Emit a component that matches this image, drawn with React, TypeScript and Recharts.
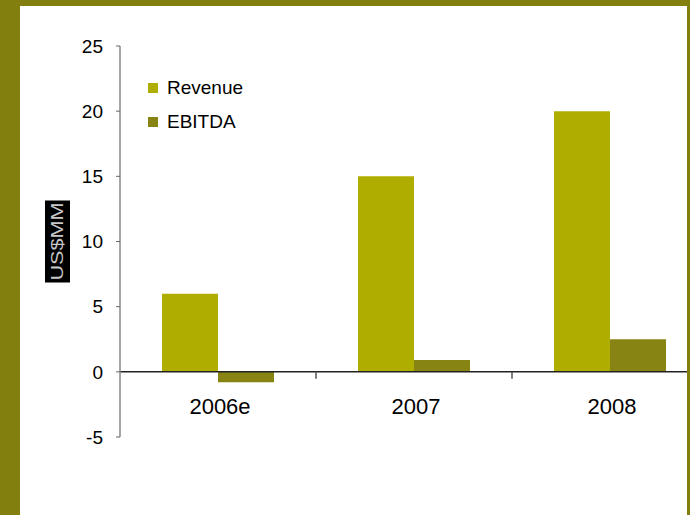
import { BarChart, Bar, XAxis, YAxis, Legend, ReferenceLine } from 'recharts';

const categories = ['2006e', '2007', '2008'];
const seriesNames = ['Revenue', 'EBITDA'];
const revenue = [6, 15, 20];
const ebitda = [-0.8, 0.9, 2.5];
const yTicks = [-5, 0, 5, 10, 15, 20, 25];

const OLIVE = '#837F0F';
const REV_COLOR = '#AFAE00';
const EBITDA_COLOR = '#888413';
const FONT = '"Liberation Sans", Arial, sans-serif';

const data = categories.map((year, i) => ({
  year,
  revenue: revenue[i],
  ebitda: ebitda[i],
}));

// zero line with small ticks between the categories
const ZeroAxis = (props: any) => {
  const { x1, y1, x2, y2 } = props;
  const step = (x2 - x1) / categories.length;
  const marks = [];
  for (let i = 1; i < categories.length; i++) {
    const x = x1 + step * i;
    marks.push(<line key={i} x1={x} y1={y1} x2={x} y2={y1 + 7} stroke="#555" strokeWidth={1.5} />);
  }
  return (
    <g>
      <line x1={x1} y1={y1} x2={x2} y2={y2} stroke="#222" strokeWidth={1.5} />
      {marks}
    </g>
  );
};

const CategoryTick = (props: any) => {
  const { x, y, payload } = props;
  return (
    <text x={x + 2} y={y - 23} textAnchor="middle" fontSize={22} fill="#000" fontFamily={FONT}>
      {payload.value}
    </text>
  );
};

const UnitLabel = (props: any) => {
  const { viewBox } = props;
  const cx = viewBox.x + 37.5;
  const cy = viewBox.y + viewBox.height / 2;
  return (
    <g>
      <rect x={cx - 12.5} y={cy - 41} width={25} height={82} fill="#000" />
      <text
        x={cx}
        y={cy}
        transform={`rotate(-90 ${cx} ${cy})`}
        textAnchor="middle"
        dominantBaseline="central"
        fontSize={17}
        fill="#c8c8c8"
        fontFamily={FONT}
        textLength={78}
        lengthAdjust="spacingAndGlyphs"
      >
        US$MM
      </text>
    </g>
  );
};

const LegendContent = (props: any) => {
  const { payload = [] } = props;
  const items = [...payload].sort(
    (a: any, b: any) => seriesNames.indexOf(a.value) - seriesNames.indexOf(b.value)
  );
  return (
    <div style={{ fontFamily: FONT }}>
      {items.map((item: any) => (
        <div key={item.value} style={{ display: 'flex', alignItems: 'center', height: 34 }}>
          <span style={{ width: 10, height: 10, background: item.color, marginRight: 9 }} />
          <span style={{ fontSize: 19, color: '#000' }}>{item.value}</span>
        </div>
      ))}
    </div>
  );
};

export default function App() {
  return (
    <div
      style={{
        position: 'absolute',
        left: 0,
        top: 0,
        width: 690,
        height: 515,
        background: OLIVE,
        overflow: 'hidden',
      }}
    >
      <div
        style={{
          position: 'absolute',
          left: 20,
          top: 6,
          width: 667,
          height: 509,
          background: '#fff',
          overflow: 'hidden',
          fontFamily: FONT,
        }}
      >
        <BarChart
          width={700}
          height={509}
          data={data}
          margin={{ top: 40, right: 12, left: 0, bottom: 48 }}
          barGap={0}
          barSize={56}
        >
          <XAxis
            dataKey="year"
            axisLine={false}
            tickLine={false}
            tickSize={0}
            tickMargin={0}
            height={30}
            interval={0}
            tick={<CategoryTick />}
          />
          <YAxis
            domain={[-5, 25]}
            ticks={yTicks}
            width={100}
            axisLine={{ stroke: '#888', strokeWidth: 1.5 }}
            tickLine={{ stroke: '#666' }}
            tickSize={4}
            tickMargin={13}
            tick={{ fontSize: 19, fill: '#000', fontFamily: FONT }}
            label={<UnitLabel />}
          />
          <Legend
            layout="horizontal"
            verticalAlign="middle"
            content={<LegendContent />}
            wrapperStyle={{ left: 128, top: 65, width: 'auto' }}
          />
          <Bar dataKey="revenue" name={seriesNames[0]} fill={REV_COLOR} isAnimationActive={false} />
          <Bar dataKey="ebitda" name={seriesNames[1]} fill={EBITDA_COLOR} isAnimationActive={false} />
          <ReferenceLine y={0} shape={<ZeroAxis />} />
        </BarChart>
      </div>
    </div>
  );
}
